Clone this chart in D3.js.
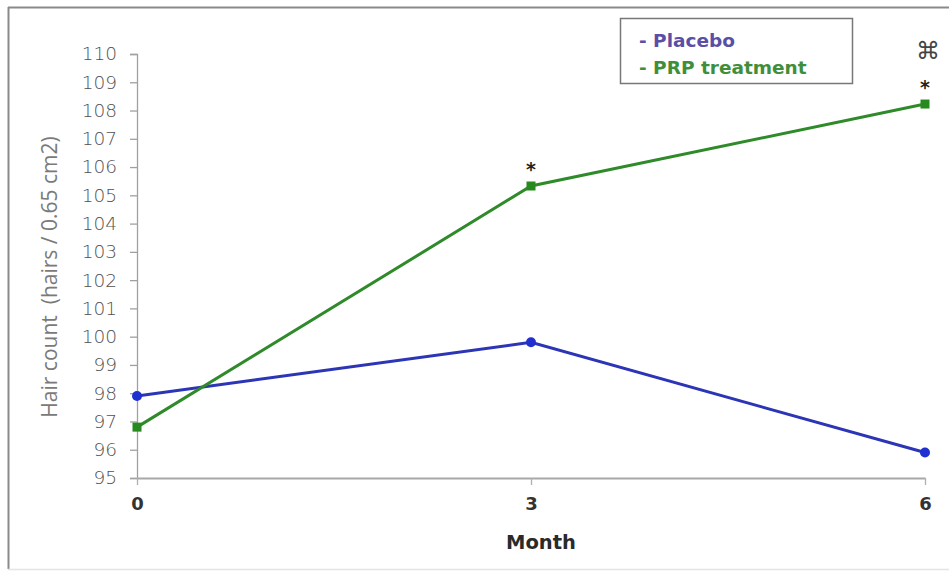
<!DOCTYPE html>
<html>
<head>
<meta charset="utf-8">
<script src="https://cdn.jsdelivr.net/npm/d3@7"></script>
<style>
  html, body { margin: 0; padding: 0; background: #fff; }
  svg { display: block; }
</style>
</head>
<body>
<svg id="chart" width="949" height="571"></svg>
<script>
// ---- data ----
const months = [0, 3, 6];
const placebo = [97.9, 99.8, 95.9];
const prp = [96.8, 105.33, 108.23];
const yTicks = [95, 96, 97, 98, 99, 100, 101, 102, 103, 104, 105, 106, 107, 108, 109, 110];
const xTickLabels = ["0", "3", "6"];
const seriesNames = ["- Placebo", "- PRP treatment"];
const annotations = [
  { month: 3, text: "*" },
  { month: 6, text: "*" },
  { month: 6, text: "\u2318" }
];

// ---- layout ----
const svg = d3.select("#chart");
const W = 949, H = 571;
const x = d3.scaleLinear().domain([0, 6]).range([137, 925]);
const y = d3.scaleLinear().domain([95, 110]).range([478, 54]);

// frame
svg.append("line").attr("x1", 8).attr("x2", W).attr("y1", 7.5).attr("y2", 7.5)
  .attr("stroke", "#8a8a8a").attr("stroke-width", 2);
svg.append("line").attr("x1", 8.5).attr("x2", 8.5).attr("y1", 7).attr("y2", 569)
  .attr("stroke", "#8a8a8a").attr("stroke-width", 2);
svg.append("line").attr("x1", 8).attr("x2", W).attr("y1", 569.5).attr("y2", 569.5)
  .attr("stroke", "#e4e4e4").attr("stroke-width", 1.5);

// y axis
const yAxis = d3.axisLeft(y).tickValues(yTicks).tickSize(7).tickPadding(13).tickFormat(d3.format("d"));
const gy = svg.append("g").attr("transform", `translate(${x(0)},0)`).call(yAxis);
gy.select(".domain").attr("stroke", "#a0a0a0").attr("stroke-width", 1.3);
gy.selectAll(".tick line").attr("stroke", "#a0a0a0").attr("stroke-width", 1.3);
gy.selectAll(".tick text")
  .attr("font-family", "'DejaVu Sans', sans-serif")
  .attr("font-weight", 300)
  .attr("font-size", 18.5)
  .attr("fill", "#505050");

// x axis
const xAxis = d3.axisBottom(x).tickValues(months).tickSize(7).tickPadding(12).tickSizeOuter(0)
  .tickFormat((d, i) => xTickLabels[i]);
const gx = svg.append("g").attr("transform", `translate(0,${y(95)})`).call(xAxis);
gx.select(".domain").attr("stroke", "#a8a8a8").attr("stroke-width", 2);
gx.selectAll(".tick line").attr("stroke", "#b0b0b0").attr("stroke-width", 1.3);
gx.selectAll(".tick text")
  .attr("font-family", "'DejaVu Sans', sans-serif")
  .attr("font-weight", "bold")
  .attr("font-size", 18)
  .attr("fill", "#333");

// axis titles
svg.append("text")
  .attr("x", 541).attr("y", 549)
  .attr("text-anchor", "middle")
  .attr("font-family", "'DejaVu Sans', sans-serif")
  .attr("font-weight", "bold")
  .attr("font-size", 19.5)
  .attr("fill", "#2a2a2a")
  .text("Month");

svg.append("text")
  .attr("transform", "translate(57,277) rotate(-90)")
  .attr("text-anchor", "middle")
  .attr("font-family", "'Open Sans', sans-serif")
  .attr("font-size", 21)
  .attr("fill", "#7a7a7a")
  .style("white-space", "pre")
  .text("Hair count  (hairs / 0.65 cm2)");

// lines
const line = d3.line().x((d, i) => x(months[i])).y(d => y(d));
svg.append("path").datum(placebo).attr("d", line)
  .attr("fill", "none").attr("stroke", "#2b35b5").attr("stroke-width", 3);
svg.append("path").datum(prp).attr("d", line)
  .attr("fill", "none").attr("stroke", "#2f8a2a").attr("stroke-width", 3);

// markers
svg.selectAll(".pm").data(placebo).enter().append("circle")
  .attr("cx", (d, i) => x(months[i])).attr("cy", d => y(d)).attr("r", 5)
  .attr("fill", "#1f2fd0");
svg.selectAll(".gm").data(prp).enter().append("rect")
  .attr("x", (d, i) => x(months[i]) - 4.5).attr("y", d => y(d) - 4.5)
  .attr("width", 9).attr("height", 9)
  .attr("fill", "#268a1e");

// annotations
annotations.forEach(a => {
  const idx = months.indexOf(a.month);
  const py = y(prp[idx]);
  if (a.text === "*") {
    svg.append("text")
      .attr("x", x(a.month)).attr("y", py - 10)
      .attr("text-anchor", "middle")
      .attr("font-family", "'DejaVu Sans', sans-serif")
      .attr("font-weight", "bold")
      .attr("font-size", 19)
      .attr("fill", "#222")
      .text(a.text);
  } else {
    svg.append("text")
      .attr("x", x(a.month) + 3).attr("y", py - 45)
      .attr("text-anchor", "middle")
      .attr("font-family", "'DejaVu Sans', sans-serif")
      .attr("font-size", 24)
      .attr("fill", "#444")
      .text(a.text);
  }
});

// legend
svg.append("rect").attr("x", 620.5).attr("y", 18.5).attr("width", 232).attr("height", 65)
  .attr("fill", "#fff").attr("stroke", "#777").attr("stroke-width", 1.5);
const legendColors = ["#5a4fa6", "#3f8f3a"];
seriesNames.forEach((s, i) => {
  svg.append("text")
    .attr("x", 639).attr("y", 47 + i * 27)
    .attr("font-family", "'DejaVu Sans', sans-serif")
    .attr("font-weight", "bold")
    .attr("font-size", 18.5)
    .attr("fill", legendColors[i])
    .style("white-space", "pre")
    .text(s);
});
</script>
</body>
</html>
